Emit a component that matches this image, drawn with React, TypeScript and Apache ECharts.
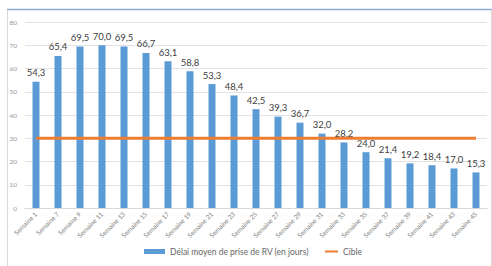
import React, { useEffect, useRef } from "react";
import * as echarts from "echarts";

const categories = [
  "Semaine 1", "Semaine 7", "Semaine 9", "Semaine 11", "Semaine 13", "Semaine 15",
  "Semaine 17", "Semaine 19", "Semaine 21", "Semaine 23", "Semaine 25", "Semaine 27",
  "Semaine 29", "Semaine 31", "Semaine 33", "Semaine 35", "Semaine 37", "Semaine 39",
  "Semaine 41", "Semaine 43", "Semaine 45",
];
const delai = [
  54.3, 65.4, 69.5, 70.0, 69.5, 66.7, 63.1, 58.8, 53.3, 48.4, 42.5, 39.3,
  36.7, 32.0, 28.2, 24.0, 21.4, 19.2, 18.4, 17.0, 15.3,
];
const cible = [
  30, 30, 30, 30, 30, 30, 30, 30, 30, 30, 30, 30, 30, 30, 30, 30, 30, 30, 30, 30, 30,
];
const yTicks = { min: 0, max: 80, interval: 10 };
const barName = "Délai moyen de prise de RV (en jours)";
const lineName = "Cible";

export default function App() {
  const ref = useRef<HTMLDivElement>(null);
  useEffect(() => {
    if (!ref.current) return;
    const chart = echarts.init(ref.current, null, { renderer: "svg" });
    const font = "Lato, 'Open Sans', sans-serif";
    const legendText = { fontSize: 8.5, color: "#666666", fontFamily: font };
    chart.setOption({
      animation: false,
      textStyle: { fontFamily: font },
      graphic: [
        { type: "line", shape: { x1: 7, y1: 9.5, x2: 492, y2: 9.5 }, style: { stroke: "#8eaadb", lineWidth: 1.5 } },
        { type: "line", shape: { x1: 7.5, y1: 10, x2: 7.5, y2: 266 }, style: { stroke: "#d9d9d9", lineWidth: 1 } },
        { type: "line", shape: { x1: 491.5, y1: 10, x2: 491.5, y2: 266 }, style: { stroke: "#d9d9d9", lineWidth: 1 } },
      ],
      grid: { left: 25, right: 5, top: 22, bottom: 58, containLabel: false },
      legend: [
        {
          bottom: 5,
          left: 139,
          itemWidth: 21,
          itemHeight: 5,
          textStyle: legendText,
          data: [{ name: barName, icon: "rect" }],
        },
        {
          bottom: 5,
          left: 320,
          itemWidth: 13,
          itemHeight: 2,
          itemGap: 2,
          textStyle: legendText,
          data: [{ name: lineName, icon: "rect" }],
        },
      ],
      xAxis: {
        type: "category",
        data: categories,
        axisLine: { lineStyle: { color: "#d9d9d9" } },
        axisTick: { show: false },
        axisLabel: { rotate: 45, fontSize: 6.5, color: "#7f7f7f", interval: 0, margin: 5 },
      },
      yAxis: {
        type: "value",
        min: yTicks.min,
        max: yTicks.max,
        interval: yTicks.interval,
        axisLine: { show: false },
        axisTick: { show: false },
        axisLabel: { fontSize: 6.5, color: "#999999", margin: 8 },
        splitLine: { lineStyle: { color: "#e3e3e3", width: 1 } },
      },
      series: [
        {
          name: barName,
          type: "bar",
          data: delai,
          barWidth: 7,
          itemStyle: { color: "#5b9bd5" },
          label: {
            show: true,
            position: "top",
            distance: 4,
            fontSize: 9.5,
            color: "#404040",
            fontFamily: font,
            formatter: (p: any) => p.value.toFixed(1).replace(".", ","),
          },
        },
        {
          name: lineName,
          type: "line",
          data: cible,
          symbol: "none",
          lineStyle: { color: "#ed7d31", width: 3 },
          itemStyle: { color: "#ed7d31" },
        },
      ],
    });
    return () => chart.dispose();
  }, []);
  return <div ref={ref} style={{ width: 492, height: 266, position: "absolute", left: 0, top: 0 }} />;
}
